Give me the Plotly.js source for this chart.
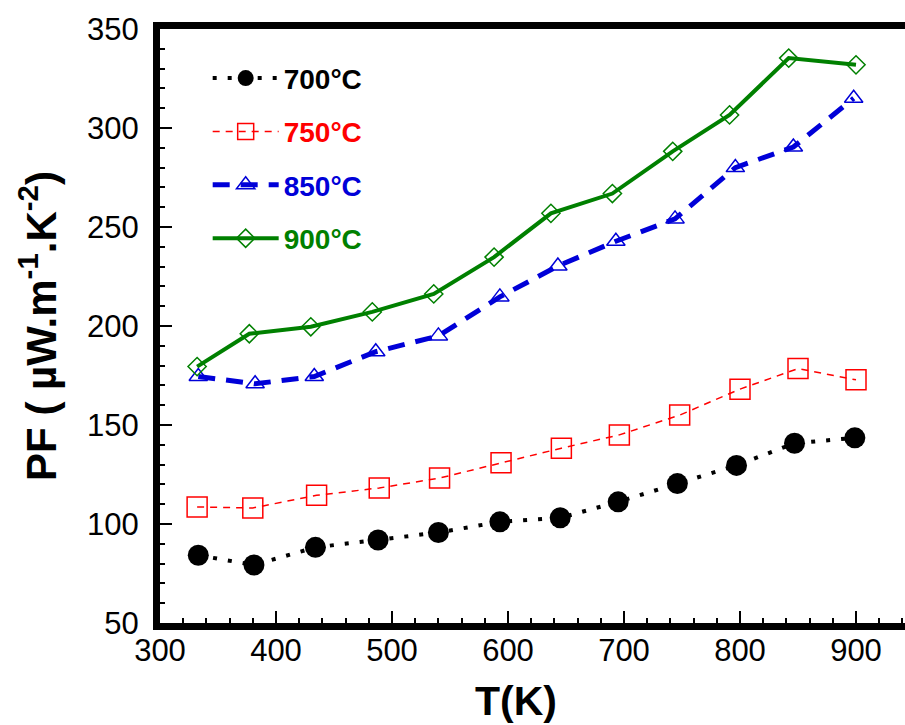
<!DOCTYPE html>
<html>
<head>
<meta charset="utf-8">
<script src="https://cdn.plot.ly/plotly-3.0.1.min.js"></script>
<style>html,body{margin:0;padding:0;background:#fff;overflow:hidden;}#chart{width:905px;height:725px;}</style>
</head>
<body>
<div id="chart"></div>
<script>
// Data
const seriesNames = ["700°C", "750°C", "850°C", "900°C"];
const T700 = [333, 381, 434, 488, 540, 593, 645, 695, 746, 797, 847, 899];
const PF700 = [84.2, 79.3, 88.2, 91.9, 95.7, 101.1, 103.1, 111.2, 120.4, 129.6, 140.8, 143.5];
const T750 = [332, 380, 435, 489, 541, 594, 646, 696, 748, 800, 850, 900];
const PF750 = [108.6, 108.1, 114.5, 118.2, 123.2, 130.9, 138.3, 145.0, 155.0, 168.1, 178.5, 172.8];
const T850 = [333, 382, 433, 486, 540, 593, 643, 693, 744, 796, 846, 898];
const PF850 = [174.5, 170.8, 174.5, 187.0, 195.0, 214.7, 230.3, 242.8, 254.1, 280.0, 290.4, 315.0];
const T900 = [332, 377, 430, 483, 536, 588, 637, 690, 742, 791, 842, 900];
const PF900 = [179.5, 196.1, 199.6, 207.1, 216.2, 234.8, 256.9, 266.9, 288.2, 306.6, 335.3, 331.9];
const xTicks = [300, 400, 500, 600, 700, 800, 900];
const yTicks = [50, 100, 150, 200, 250, 300, 350];
const xTitle = "T(K)";
const yTitle = "PF ( µW.m<sup>-1</sup>.K<sup>-2</sup>)";

const colors = ["#000000", "#ff0000", "#0000d8", "#008000"];

function nm(i) {
  return '<span style="color:' + colors[i] + '">' + seriesNames[i] + '</span>';
}

const traces = [
  {x: T700, y: PF700, name: nm(0), legendgroup: "a", mode: "lines+markers",
   line: {color: colors[0], width: 4, dash: "4px,11px"},
   marker: {symbol: "circle", size: 21, color: colors[0]}},
  {x: T750, y: PF750, name: nm(1), legendgroup: "b", mode: "lines+markers",
   line: {color: colors[1], width: 1.5, dash: "7px,6px"},
   marker: {symbol: "square-open", size: 20, color: colors[1], line: {width: 1.5, color: colors[1]}}},
  {x: T850, y: PF850, name: nm(2), legendgroup: "c", mode: "lines+markers",
   line: {color: colors[2], width: 5, dash: "17px,11px"},
   marker: {symbol: "triangle-up-open", size: 16, color: colors[2], line: {width: 1.5, color: colors[2]}}},
  {x: T900, y: PF900, name: nm(3), legendgroup: "d", mode: "lines+markers",
   line: {color: colors[3], width: 4, dash: "solid"},
   marker: {symbol: "diamond-open", size: 14, color: colors[3], line: {width: 1.5, color: colors[3]}}}
];

const layout = {
  width: 905, height: 725,
  margin: {l: 160, r: 0, t: 29, b: 102, pad: 0},
  paper_bgcolor: "#fff", plot_bgcolor: "#fff",
  showlegend: true,
  font: {family: "Arial, Liberation Sans, sans-serif", color: "#000"},
  xaxis: {
    range: [300, 300 + 745 / 1.16],
    tickvals: xTicks, ticktext: xTicks.map(String),
    ticks: "inside", ticklen: 12, tickwidth: 2, tickcolor: "#000",
    minor: {dtick: 20, ticks: "inside", ticklen: 5, tickwidth: 2, tickcolor: "#000"},
    showline: true, linewidth: 7, linecolor: "#000", mirror: true,
    showgrid: false, zeroline: false,
    tickfont: {size: 31, color: "#000"},
    ticklabelstandoff: -6
  },
  yaxis: {
    range: [50, 350],
    tickvals: yTicks, ticktext: yTicks.map(String),
    ticks: "inside", ticklen: 12, tickwidth: 2, tickcolor: "#000",
    minor: {dtick: 10, ticks: "inside", ticklen: 5, tickwidth: 2, tickcolor: "#000"},
    showline: true, linewidth: 7, linecolor: "#000", mirror: false,
    showgrid: false, zeroline: false,
    tickfont: {size: 31, color: "#000"},
    ticklabelstandoff: 8,
    title: {text: "<b>" + yTitle + "</b>", font: {size: 42, color: "#000"}, standoff: 20}
  },
  annotations: [
    {text: "<b>" + xTitle + "</b>", xref: "paper", yref: "paper",
     x: (516 - 160) / 745, y: -0.09, xanchor: "center", yanchor: "top",
     showarrow: false, font: {size: 41, color: "#000"}}
  ],
  legend: {
    x: 0.064, y: 0.959, xanchor: "left", yanchor: "top",
    bgcolor: "rgba(0,0,0,0)", borderwidth: 0,
    font: {size: 28, color: "#000", weight: "bold"},
    itemwidth: 66, tracegroupgap: 14,
    traceorder: "grouped"
  }
};

Plotly.newPlot("chart", traces, layout, {staticPlot: true, displayModeBar: false});
</script>
</body>
</html>
